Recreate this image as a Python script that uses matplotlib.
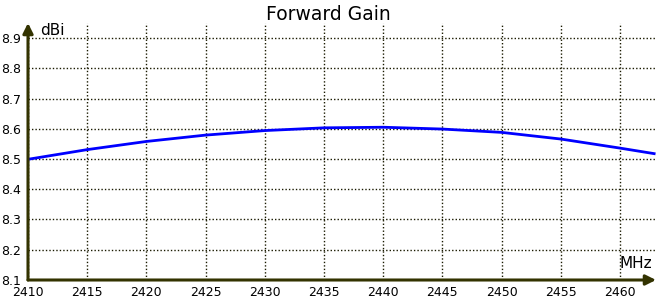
#!/usr/bin/env python3

import matplotlib
matplotlib.use("Agg")
import matplotlib.pyplot as plt

# Forward gain readings (MHz -> dBi)
freq = [2410, 2415, 2420, 2425, 2430, 2435, 2440, 2445, 2450, 2455, 2460, 2463]
gain = [8.499, 8.531, 8.558, 8.579, 8.594, 8.603, 8.605, 8.599, 8.588, 8.566, 8.536, 8.517]

x_ticks = [2410, 2415, 2420, 2425, 2430, 2435, 2440, 2445, 2450, 2455, 2460]
y_ticks = [8.1, 8.2, 8.3, 8.4, 8.5, 8.6, 8.7, 8.8, 8.9]


def forward_gain_plot():
    axis_color = "#333300"
    fig = plt.figure(figsize=(6.56, 3.0), dpi=100)
    ax = fig.add_axes([28 / 656, 20 / 300, 628 / 656, 257 / 300])

    # The curve
    ax.plot(freq, gain, color="#0000ff", linewidth=2.0, solid_capstyle="butt")

    ax.set_xlim(2410, 2410 + 628 / 11.84)
    ax.set_ylim(8.1, 8.1 + 257 / 302.5)
    ax.set_xticks(x_ticks)
    ax.set_yticks(y_ticks)
    ax.set_yticklabels([f"{v:.1f}" for v in y_ticks])

    ## Grid and axes
    ax.grid(True, color="#1a1a00", linestyle=(0, (1, 1.5)), linewidth=1)
    for side in ["top", "right", "left", "bottom"]:
        ax.spines[side].set_visible(False)
    ax.tick_params(length=0, labelsize=9, colors="black")
    ax.tick_params(axis="y", pad=5)
    ax.tick_params(axis="x", pad=4)

    ax.annotate("", xy=(0, 1.0), xytext=(0, 0), xycoords="axes fraction",
                arrowprops=dict(arrowstyle="-|>,head_length=0.6,head_width=0.3",
                                color=axis_color, lw=2.2, shrinkA=0, shrinkB=0),
                annotation_clip=False)
    ax.annotate("", xy=(1.0, 0), xytext=(0, 0), xycoords="axes fraction",
                arrowprops=dict(arrowstyle="-|>,head_length=0.6,head_width=0.3",
                                color=axis_color, lw=2.2, shrinkA=0, shrinkB=0),
                annotation_clip=False)

    ## Labels
    ax.text(12 / 628, 1.0, "dBi", transform=ax.transAxes, fontsize=11,
            ha="left", va="top")
    ax.text(624 / 628, 9 / 257, "MHz", transform=ax.transAxes, fontsize=11,
            ha="right", va="bottom")
    fig.text(0.5, 0.985, "Forward Gain", fontsize=13.5, ha="center", va="top")

    fig.savefig("out.png", dpi=100)


forward_gain_plot()
